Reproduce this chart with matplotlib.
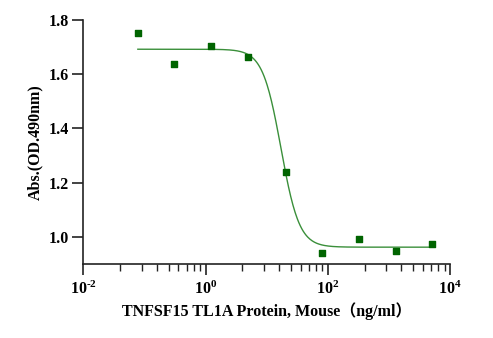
import numpy as np
import matplotlib
matplotlib.use("Agg")
import matplotlib.pyplot as plt
from matplotlib.ticker import FixedLocator, FixedFormatter

# measured points
conc = [0.078, 0.31, 1.24, 4.9, 20.3, 81, 325, 1300, 5150]
absorb = [1.751, 1.636, 1.705, 1.665, 1.239, 0.940, 0.993, 0.949, 0.975]

# 4PL fit
top = 1.692
bottom = 0.962
ec50 = 17.1
hill = 2.9

x_major = [1e-2, 1e0, 1e2, 1e4]
x_major_labels = [r"10$^{\text{-}2}$", "10$^{0}$", "10$^{2}$", "10$^{4}$"]
y_ticks = [1.0, 1.2, 1.4, 1.6, 1.8]

plt.rcParams['font.family'] = ['Liberation Serif', 'Noto Sans CJK SC']
plt.rcParams['font.weight'] = 'bold'
plt.rcParams['mathtext.fontset'] = 'custom'
plt.rcParams['mathtext.rm'] = 'Liberation Serif:bold'
plt.rcParams['mathtext.bf'] = 'Liberation Serif:bold'
plt.rcParams['mathtext.it'] = 'Liberation Serif:bold'
plt.rcParams['mathtext.default'] = 'rm'

fig = plt.figure(figsize=(4.93, 3.38), dpi=100)
ax = fig.add_axes([0.169, 0.219, 0.744, 0.722])

xs = np.logspace(np.log10(conc[0]), np.log10(conc[-1]), 400)
ys = bottom + (top - bottom) / (1 + (xs / ec50) ** hill)
ax.plot(xs, ys, color="#3a8f3a", lw=1.0)
ax.scatter(conc, absorb, marker="s", s=22, color="#006400", zorder=3)

ax.set_xscale("log")
ax.set_xlim(1e-2, 1e4)
ax.set_ylim(0.9, 1.8)

minor = []
for m in x_major[:-1]:
    for k in range(2, 10):
        minor.append(m * k * k)
ax.xaxis.set_major_locator(FixedLocator(x_major))
ax.xaxis.set_major_formatter(FixedFormatter(x_major_labels))
ax.xaxis.set_minor_locator(FixedLocator(minor))
ax.xaxis.set_minor_formatter(FixedFormatter([""] * len(minor)))
ax.set_yticks(y_ticks)
ax.set_yticklabels(["%.1f" % v for v in y_ticks])

for s in ["top", "right"]:
    ax.spines[s].set_visible(False)
for s in ["left", "bottom"]:
    ax.spines[s].set_linewidth(1.2)
    ax.spines[s].set_color("#222222")

ax.tick_params(axis="both", which="major", length=8, width=1.2, labelsize=11.5, color="#222222")
ax.tick_params(axis="y", which="major", pad=2)
ax.tick_params(axis="x", which="major", pad=4)
ax.tick_params(axis="x", which="minor", length=5, width=1.0, color="#222222")

ax.set_xlabel("TNFSF15 TL1A Protein, Mouse（ng/ml）", fontsize=11.5, fontweight="bold", labelpad=3)
ax.set_ylabel("Abs.(OD.490nm)", fontsize=11.5, fontweight="bold", labelpad=4)

fig.savefig("out.png", dpi=100)
